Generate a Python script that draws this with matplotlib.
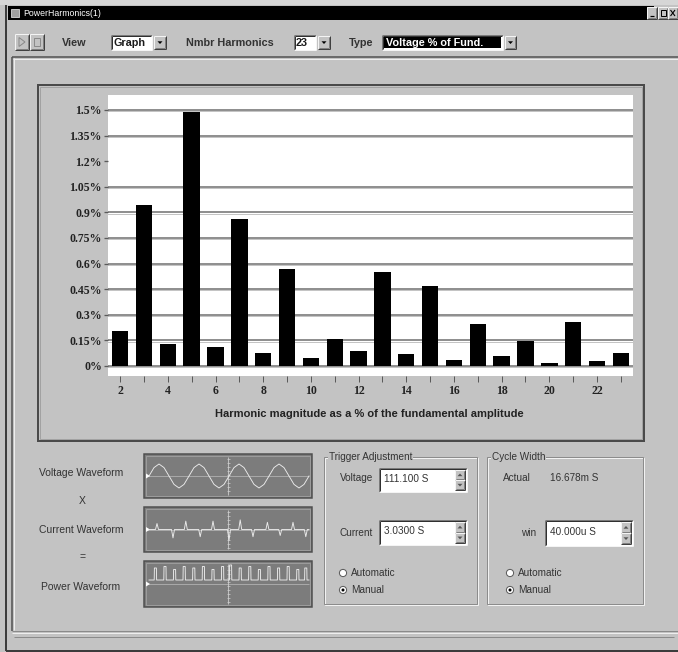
import matplotlib
matplotlib.use("Agg")
import matplotlib.pyplot as plt
from matplotlib.patches import Rectangle, Circle, Polygon

W, H = 678, 652

# ---------------- data ----------------
harmonics = list(range(2, 24))
magnitude_pct = [0.207, 0.941, 0.129, 1.490, 0.113, 0.859, 0.078, 0.566, 0.049, 0.160, 0.090,
                 0.553, 0.068, 0.469, 0.035, 0.246, 0.061, 0.148, 0.020, 0.256, 0.029, 0.078]
y_ticks = [0, 0.15, 0.3, 0.45, 0.6, 0.75, 0.9, 1.05, 1.2, 1.35, 1.5]
y_tick_labels = ["0%", "0.15%", "0.3%", "0.45%", "0.6%", "0.75%", "0.9%", "1.05%", "1.2%", "1.35%", "1.5%"]
grid_levels = [0, 0.15, 0.3, 0.45, 0.6, 0.75, 0.9, 1.05, 1.35, 1.5]
x_label_values = [2, 4, 6, 8, 10, 12, 14, 16, 18, 20, 22]
x_label = "Harmonic magnitude as a % of the fundamental amplitude"

window_title = "PowerHarmonics(1)"
view_value = "Graph"
n_harmonics_value = "23"
type_value = "Voltage % of Fund."

# thumbnail waveforms (normalised amplitude, equally spaced samples)
voltage_samples = [0, 0.7, 1, 0.7, 0, -0.7, -1, -0.7,
                   0, 0.7, 1, 0.7, 0, -0.7, -1, -0.7,
                   0, 0.7, 1, 0.7, 0, -0.7, -1, -0.7,
                   0, 0.7, 1, 0.7, 0, -0.7, -1, -0.7, 0]
current_pulse_pos = [0.05, 0.15, 0.23, 0.32, 0.40, 0.50, 0.57, 0.65, 0.74, 0.82, 0.90, 0.98]
current_pulse_amp = [0.5, -0.7, 0.7, -0.6, 0.7, -0.9, 0.8, -0.6, 0.6, -0.5, 0.6, -0.6]
power_pulse_pos = [0.04, 0.10, 0.16, 0.22, 0.28, 0.34, 0.40, 0.46, 0.51, 0.57, 0.63, 0.69,
                   0.75, 0.81, 0.87, 0.93, 0.98]
power_pulse_amp = [0.8, 0.9, 0.7, 0.9, 0.8, 0.9, 0.7, 0.9, 1.0, 0.8, 0.9, 0.7,
                   0.9, 0.8, 0.9, 0.7, 0.8]

trigger_voltage = "111.100 S"
trigger_current = "3.0300 S"
actual_width = "16.678m S"
win_width = "40.000u S"

# ---------------- figure ----------------
GRAY = "#c3c3c3"
SANS = ["Liberation Sans", "DejaVu Sans"]
SERIF = ["Liberation Serif", "DejaVu Serif"]
PX = 0.72  # points per pixel

fig = plt.figure(figsize=(W / 100, H / 100), dpi=100)
fig.patch.set_facecolor(GRAY)
bg = fig.add_axes([0, 0, 1, 1])
bg.set_xlim(0, W)
bg.set_ylim(H, 0)
bg.axis("off")


def rect(x0, y0, x1, y1, fc="none", ec="none", lw=1.0, z=1):
    bg.add_patch(Rectangle((x0, y0), x1 - x0, y1 - y0, facecolor=fc, edgecolor=ec,
                           linewidth=lw * PX, zorder=z))


def line(xs, ys, color, lw=1.0, z=2):
    bg.plot(xs, ys, color=color, lw=lw * PX, solid_capstyle="butt", zorder=z)


def sunken(x0, y0, x1, y1, fc="white", z=2):
    rect(x0, y0, x1, y1, fc=fc, z=z)
    line([x0, x1], [y0, y0], "#7a7a7a", 1, z + 0.1)
    line([x0, x0], [y0, y1], "#7a7a7a", 1, z + 0.1)
    line([x0 + 1, x1 - 1], [y0 + 1, y0 + 1], "#303030", 1, z + 0.1)
    line([x0 + 1, x0 + 1], [y0 + 1, y1 - 1], "#303030", 1, z + 0.1)
    line([x0, x1], [y1, y1], "#f4f4f4", 1, z + 0.1)
    line([x1, x1], [y0, y1], "#f4f4f4", 1, z + 0.1)


def raised(x0, y0, x1, y1, fc=GRAY, z=3):
    rect(x0, y0, x1, y1, fc=fc, z=z)
    line([x0, x1], [y0, y0], "#f4f4f4", 1, z + 0.1)
    line([x0, x0], [y0, y1], "#f4f4f4", 1, z + 0.1)
    line([x0, x1], [y1, y1], "#404040", 1, z + 0.1)
    line([x1, x1], [y0, y1], "#404040", 1, z + 0.1)
    line([x0 + 1, x1 - 1], [y1 - 1, y1 - 1], "#808080", 1, z + 0.1)
    line([x1 - 1, x1 - 1], [y0 + 1, y1 - 1], "#808080", 1, z + 0.1)


def txt(x, y, s, size=7.5, ha="left", color="#1a1a1a", weight="normal", family=SANS, z=5):
    bg.text(x, y, s, fontsize=size, ha=ha, va="center", color=color, fontweight=weight,
            family=family, zorder=z)


def down_arrow(cx, cy, z=5, color="black"):
    bg.add_patch(Polygon([[cx - 2.5, cy - 1.2], [cx + 2.5, cy - 1.2], [cx, cy + 1.5]],
                         closed=True, facecolor=color, edgecolor="none", zorder=z))


def up_arrow(cx, cy, z=5, color="black"):
    bg.add_patch(Polygon([[cx - 2.5, cy + 1.2], [cx + 2.5, cy + 1.2], [cx, cy - 1.5]],
                         closed=True, facecolor=color, edgecolor="none", zorder=z))


# ---- window chrome ----
rect(0, 0, W, 5, fc="#d6d6d6", z=0.5)
line([6, 6], [5, 651], "#3c3c3c", 2)
rect(8, 6, 654, 20, fc="black", z=2)
rect(11, 9, 19, 17, fc="#a0a0a0", ec="#e0e0e0", lw=0.8, z=3)
txt(23, 13.2, window_title, size=6.3, color="white")
for bx0 in (647, 658, 668):
    raised(bx0, 7, bx0 + 9.5, 19, z=3)
line([650, 654], [16, 16], "black", 1.2, 4)
rect(660.5, 10, 665.5, 15.5, ec="black", lw=1, z=4)
line([670.5, 675], [10, 16], "black", 1.1, 4)
line([670.5, 675], [16, 10], "black", 1.1, 4)

# toolbar
raised(15, 34, 29, 50, z=3)
raised(30, 34, 44, 50, z=3)
bg.add_patch(Polygon([[19, 37.5], [19, 46.5], [25, 42]], closed=True, facecolor="none",
                     edgecolor="#8a8a8a", lw=1 * PX, zorder=4))
rect(34, 38, 40, 46, fc="none", ec="#8a8a8a", lw=1, z=4)
txt(62, 43, "View", size=7.8, color="#333333", weight="bold")
sunken(111, 35, 152, 50)
txt(113.5, 42.5, view_value, size=7.8, weight="bold")
raised(154, 36, 166, 49, z=3)
down_arrow(160, 42.5)
txt(186, 43, "Nmbr Harmonics", size=7.8, color="#333333", weight="bold")
sunken(294, 35, 316, 50)
txt(296, 42.5, n_harmonics_value, size=7.8, weight="bold")
raised(318, 36, 330, 49, z=3)
down_arrow(324, 42.5)
txt(349, 43, "Type", size=7.8, color="#333333", weight="bold")
sunken(382, 35, 503, 50)
rect(384, 37, 501, 48, fc="black", z=3)
txt(386, 42.5, type_value, size=7.8, color="white", weight="bold")
raised(505, 36, 516, 49, z=3)
down_arrow(510.5, 42.5)

# separators / borders
line([12, W], [57, 57], "#505050", 1.5)
line([13, W], [58.5, 58.5], "#eeeeee", 1)
line([12, 12], [57, 631], "#505050", 1.5)
line([13.5, 13.5], [58, 630], "#eeeeee", 1)
line([12, W], [631, 631], "#8a8a8a", 1)
line([12, W], [632.5, 632.5], "#eeeeee", 1)
line([14, W - 4], [637, 637], "#8a8a8a", 1)
line([6, W], [650.5, 650.5], "#3c3c3c", 2)

# chart frame
rect(38, 85, 644, 441, ec="#4a4a4a", lw=2, z=2)
rect(40, 87, 642, 439, ec="#9a9a9a", lw=0.8, z=2)

# ---- main chart ----
px_per_unit = 256 / 1.5
ax = fig.add_axes([108 / W, 1 - 376 / H, 525 / W, 281 / H], zorder=5)
ax.set_facecolor("white")
ax.set_xlim(1.49, 23.51)
ax.set_ylim(-10 / px_per_unit, 1.5 + 15 / px_per_unit)
for g in grid_levels:
    ax.axhline(g, color="#6c6c6c", lw=1.5 * PX, zorder=1)
    ax.axhline(g - 1.2 / px_per_unit, color="#c4c4c4", lw=1.0 * PX, zorder=0.9)
ax.bar(harmonics, magnitude_pct, width=0.69, color="black", zorder=3)
for s in ax.spines.values():
    s.set_visible(False)
ax.set_yticks(y_ticks)
ax.set_yticklabels(y_tick_labels, family=SERIF, fontweight="bold", fontsize=8.5, color="#222222")
ax.set_xticks(harmonics)
ax.set_xticklabels([str(h) if h in x_label_values else "" for h in harmonics],
                   family=SERIF, fontweight="bold", fontsize=8.5, color="#222222")
ax.tick_params(axis="y", length=4 * PX, width=1.3 * PX, color="#5a5a5a", pad=1.5)
ax.tick_params(axis="x", length=6 * PX, width=1.0 * PX, color="#5a5a5a", pad=2.5)
txt(369, 414, x_label, size=8, ha="center", weight="bold", color="#222222")

# ---- waveform thumbnails ----
txt(81, 473, "Voltage Waveform", size=7.5, ha="center", color="#333333")
txt(82, 501, "X", size=7.5, ha="center", color="#333333")
txt(81, 530, "Current Waveform", size=7.5, ha="center", color="#333333")
txt(82, 557, "=", size=7.5, ha="center", color="#333333")
txt(81, 587, "Power Waveform", size=7.5, ha="center", color="#333333")

boxes = [(454, 498), (507, 552), (561, 607)]
bx0, bx1 = 144, 312
wx0, wx1 = 149, 309
WAVE = "#ececec"
for (y0, y1) in boxes:
    rect(bx0, y0, bx1, y1, fc="#7c7c7c", ec="#4e4e4e", lw=1.5, z=2)
    rect(bx0 + 2, y0 + 2, bx1 - 2, y1 - 2, ec="#a4a4a4", lw=0.8, z=2.1)
    cy = (y0 + y1) / 2
    line([bx0 + 3, bx1 - 3], [cy, cy], "#b4b4b4", 0.8, 2.2)
    line([228, 228], [y0 + 3, y1 - 3], "#d0d0d0", 0.8, 2.2)
    for k in range(int(y0) + 5, int(y1) - 3, 4):
        line([226.5, 229.5], [k, k], "#d0d0d0", 0.7, 2.2)
    bg.add_patch(Polygon([[146, cy - 2.5], [146, cy + 2.5], [150, cy]], closed=True,
                         facecolor="white", edgecolor="none", zorder=3))

# voltage
cy = (boxes[0][0] + boxes[0][1]) / 2
n = len(voltage_samples)
xs = [wx0 + (wx1 - wx0) * i / (n - 1) for i in range(n)]
ys = [cy - 12 * v for v in voltage_samples]
bg.plot(xs, ys, color=WAVE, lw=0.9 * PX, zorder=3)
# current
cy = (boxes[1][0] + boxes[1][1]) / 2
xs, ys = [wx0], [cy]
for p, a in zip(current_pulse_pos, current_pulse_amp):
    c = wx0 + (wx1 - wx0) * p
    xs += [c - 1.5, c, c + 1.5]
    ys += [cy, cy - 12 * a, cy]
xs.append(wx1)
ys.append(cy)
bg.plot(xs, ys, color=WAVE, lw=0.9 * PX, zorder=3)
# power
base = boxes[2][0] + 19
xs, ys = [wx0], [base]
for p, a in zip(power_pulse_pos, power_pulse_amp):
    c = wx0 + (wx1 - wx0) * p
    xs += [c - 1.2, c - 1.0, c + 1.0, c + 1.2]
    ys += [base, base - 15 * a, base - 15 * a, base]
xs.append(wx1)
ys.append(base)
bg.plot(xs, ys, color=WAVE, lw=0.9 * PX, zorder=3)


# ---- group boxes ----
def group(x0, y0, x1, y1, title):
    rect(x0, y0, x1, y1, ec="#8c8c8c", lw=1, z=2)
    rect(x0 + 1, y0 + 1, x1 + 1, y1 + 1, ec="#f2f2f2", lw=1, z=1.9)
    t = bg.text(x0 + 5, y0, title, fontsize=7.2, ha="left", va="center", color="#333333",
                family=SANS, zorder=4)
    t.set_bbox(dict(facecolor=GRAY, edgecolor="none", pad=0.5))


def spin_box(x0, y0, x1, y1, value):
    sunken(x0, y0, x1, y1)
    txt(x0 + 5, (y0 + y1) / 2 - 1, value, size=7.2, color="#333333")
    mid = (y0 + y1) / 2
    raised(x1 - 12, y0 + 2, x1 - 2, mid, z=3)
    raised(x1 - 12, mid, x1 - 2, y1 - 2, z=3)
    up_arrow(x1 - 7, (y0 + 2 + mid) / 2, color="#555555")
    down_arrow(x1 - 7, (mid + y1 - 2) / 2, color="#555555")


def radio(x, y, label, selected):
    bg.add_patch(Circle((x, y), 3.6, facecolor="white", edgecolor="#5a5a5a",
                        linewidth=1 * PX, zorder=4))
    if selected:
        bg.add_patch(Circle((x, y), 1.5, facecolor="black", edgecolor="none", zorder=5))
    txt(x + 8, y, label, size=7.2, color="#333333")


group(324, 457, 477, 604, "Trigger Adjustment")
txt(340, 478, "Voltage", size=7.2, color="#333333")
spin_box(379, 468, 467, 492, trigger_voltage)
txt(340, 533, "Current", size=7.2, color="#333333")
spin_box(379, 520, 467, 545, trigger_current)
radio(343, 573, "Automatic", False)
radio(343, 590, "Manual", True)

group(487, 457, 643, 604, "Cycle Width")
txt(503, 478, "Actual", size=7.2, color="#333333")
txt(550, 478, actual_width, size=7.2, color="#333333")
txt(521, 533, "win", size=7.2, color="#333333")
spin_box(545, 520, 633, 546, win_width)
radio(510, 573, "Automatic", False)
radio(510, 590, "Manual", True)

fig.savefig("out.png", dpi=100, facecolor=GRAY)
